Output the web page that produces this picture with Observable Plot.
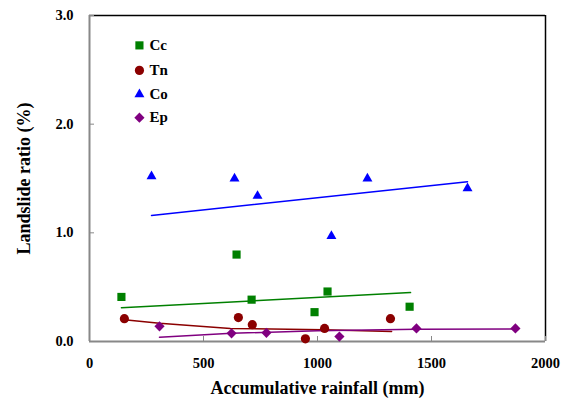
<!DOCTYPE html>
<html><head><meta charset="utf-8">
<script src="https://cdn.jsdelivr.net/npm/d3@7"></script>
<script src="https://cdn.jsdelivr.net/npm/@observablehq/plot@0.6"></script>
<style>body{margin:0;background:#fff}</style>
</head><body><div id="chart"></div>
<script>
// Tick labels
const xTicks = [0, 500, 1000, 1500, 2000];
const yTicks = [0, 1, 2, 3];
const xLabel = "Accumulative rainfall (mm)";
const yLabel = "Landslide ratio (%)";

// Series names and colours
const seriesNames = ["Cc", "Tn", "Co", "Ep"];
const seriesColors = ["#008000", "#8B0000", "#0000FF", "#800080"];
const seriesSymbols = ["square", "circle", "triangle", "diamond2"];
const seriesR = [4.6, 4.6, 3.7, 4.6];

// Points (rainfall mm, landslide ratio %)
const ccX = [140, 645, 711, 987, 1044, 1404];
const ccY = [0.41, 0.80, 0.385, 0.27, 0.46, 0.32];
const tnX = [153, 653, 714, 947, 1031, 1320];
const tnY = [0.21, 0.22, 0.155, 0.025, 0.12, 0.21];
const coX = [272, 636, 737, 1061, 1219, 1658];
const coY = [1.52, 1.50, 1.34, 0.97, 1.50, 1.41];
const epX = [307, 623, 776, 1096, 1434, 1868];
const epY = [0.14, 0.075, 0.08, 0.045, 0.12, 0.12];

// Trend lines
const ccTrendX = [140, 1408];
const ccTrendY = [0.31, 0.45];
const tnTrendX = [153, 307, 618, 1027, 1325];
const tnTrendY = [0.20, 0.168, 0.12, 0.107, 0.093];
const coTrendX = [272, 1658];
const coTrendY = [1.16, 1.47];
const epTrendX = [307, 623, 1000, 1434, 1868];
const epTrendY = [0.04, 0.075, 0.10, 0.112, 0.115];

// Legend positions (in data units)
const legendX = [219, 219, 219, 219];
const legendY = [2.725, 2.495, 2.275, 2.06];

const rows = (xs, ys, i) => xs.map((x, k) => ({x, y: ys[k], s: i}));
const pts = [rows(ccX, ccY, 0), rows(tnX, tnY, 1), rows(coX, coY, 2), rows(epX, epY, 3)];
const trends = [rows(ccTrendX, ccTrendY, 0), rows(tnTrendX, tnTrendY, 1), rows(coTrendX, coTrendY, 2), rows(epTrendX, epTrendY, 3)];
const legend = seriesNames.map((n, i) => ({name: n, x: legendX[i], y: legendY[i], s: i}));

const font = "'Liberation Serif','Times New Roman',serif";
const marks = [
  Plot.ruleY([yTicks[yTicks.length - 1]], {stroke: "black", strokeWidth: 1.5}),
  Plot.ruleX([xTicks[xTicks.length - 1]], {stroke: "black", strokeWidth: 1.5}),
  Plot.axisX({ticks: xTicks, tickSize: -5, tickPadding: 21, stroke: "#888", tickFormat: d => String(d), label: null, fontSize: 14.5, fontWeight: "bold", fontFamily: font, fill: "black"}),
  Plot.axisY({ticks: yTicks, tickSize: -5, tickPadding: 21, stroke: "#888", tickFormat: d3.format(".1f"), label: null, fontSize: 14.5, fontWeight: "bold", fontFamily: font, fill: "black"}),
  Plot.ruleX([xTicks[0]], {stroke: "#888", strokeWidth: 2}),
  Plot.ruleY([yTicks[0]], {stroke: "#888", strokeWidth: 2}),
];
trends.forEach((t, i) => marks.push(Plot.line(t, {x: "x", y: "y", stroke: seriesColors[i], strokeWidth: 1.5})));
pts.forEach((p, i) => marks.push(Plot.dot(p, {x: "x", y: "y", symbol: () => seriesSymbols[i], r: seriesR[i], fill: seriesColors[i], stroke: "none"})));
legend.forEach((l, i) => {
  marks.push(Plot.dot([l], {x: "x", y: "y", symbol: () => seriesSymbols[i], r: seriesR[i], fill: seriesColors[i], stroke: "none"}));
  marks.push(Plot.text([l], {x: "x", y: "y", text: "name", dx: 10, textAnchor: "start", fontSize: 15, fontWeight: "bold", fill: "black", fontFamily: font}));
});
marks.push(Plot.text([xLabel], {frameAnchor: "bottom", dy: 52, text: d => d, fontSize: 18, fontWeight: "bold", fill: "black", fontFamily: font}));
marks.push(Plot.text([yLabel], {frameAnchor: "left", textAnchor: "middle", dx: -65, rotate: -90, text: d => d, fontSize: 18, fontWeight: "bold", fill: "black", fontFamily: font}));

const chart = Plot.plot({
  width: 565, height: 405,
  marginLeft: 89, marginRight: 20, marginTop: 15, marginBottom: 64,
  style: {fontFamily: font, color: "black", background: "white", overflow: "visible"},
  x: {domain: [0, 2000]},
  y: {domain: [0, 3]},
  symbol: {type: "identity"},
  marks
});
document.getElementById("chart").appendChild(chart);
</script>
</body></html>
